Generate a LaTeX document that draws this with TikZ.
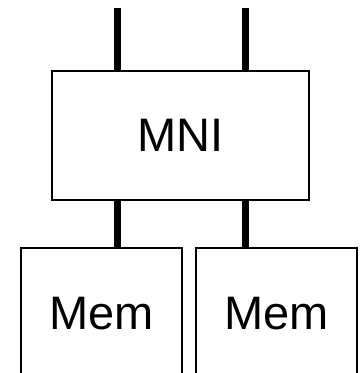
\documentclass[tikz,border=0pt]{standalone}
\usepackage{fontspec}
\setmainfont{Liberation Sans}
\usetikzlibrary{positioning}

\tikzset{
  blocco/.style={draw, line width=1.5pt, inner sep=0pt, font=\fontsize{47}{56}\selectfont},
  bus/.style={line width=7pt}
}

\begin{document}
\begin{tikzpicture}[x=1pt, y=-1pt]
    % Area del disegno (le memorie escono dal bordo in basso)
    \useasboundingbox (0,0) rectangle (362,373);
    \clip (0,0) rectangle (362,373);

    % Interfaccia di rete
    \node[blocco, minimum width=257pt, minimum height=129pt] (mni) at (180.5,135.5) {MNI};

    % Memorie
    \node[blocco, minimum width=161pt, minimum height=132pt] (memL) at (101.5,314) {Mem};
    \node[blocco, minimum width=161pt, minimum height=132pt] (memR) at (276.5,314) {Mem};

    % Collegamenti verso l'alto
    \coordinate (inL) at (117,8);
    \coordinate (inR) at (245,8);
    \draw[bus] (inL) -- (inL |- mni.north);
    \draw[bus] (inR) -- (inR |- mni.north);

    % Collegamenti verso le memorie
    \draw[bus] (inL |- mni.south) -- (inL |- memL.north);
    \draw[bus] (inR |- mni.south) -- (inR |- memR.north);
\end{tikzpicture}
\end{document}
